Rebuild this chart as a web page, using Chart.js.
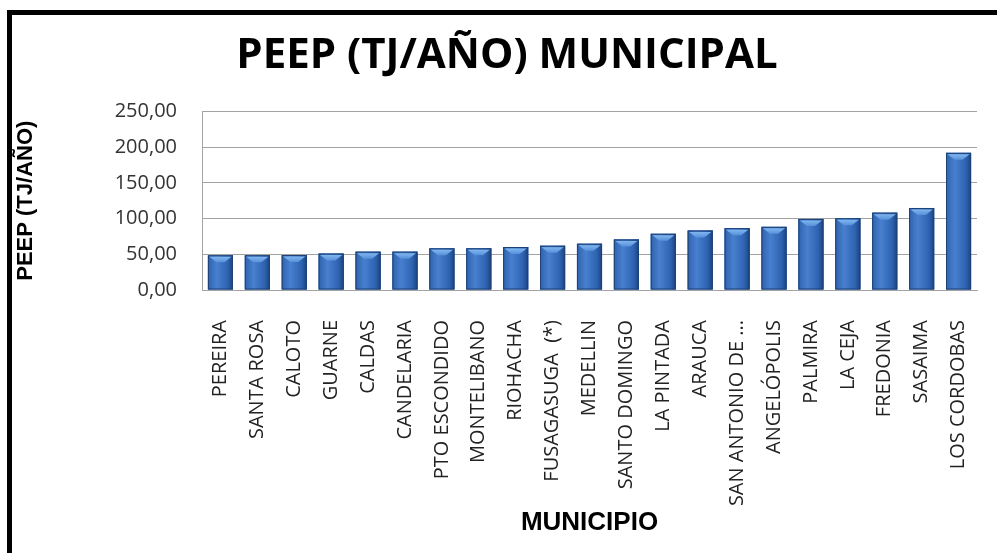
<!DOCTYPE html>
<html lang="es">
<head>
  <meta charset="UTF-8">
  <title>PEEP (TJ/AÑO) MUNICIPAL</title>
  <script src="https://cdn.jsdelivr.net/npm/chart.js@4.4.1/dist/chart.umd.min.js"></script>
  <style>
    body { margin: 0; background: #fff; }
    .wrap { position: relative; width: 997px; height: 553px; overflow: hidden; }
    .frame { position: absolute; left: 7px; top: 10px; width: 1100px; height: 700px;
             border-left: 5px solid #000; border-top: 5px solid #000; }
    canvas { position: absolute; left: 0; top: 0; }
  </style>
</head>
<body>
<div class="wrap">
  <div class="frame"></div>
  <canvas id="peepChart" width="997" height="553"></canvas>
</div>

<script>
  // municipios y PEEP (TJ/año)
  const municipios = [
    'PEREIRA', 'SANTA ROSA', 'CALOTO', 'GUARNE', 'CALDAS', 'CANDELARIA',
    'PTO ESCONDIDO', 'MONTELIBANO', 'RIOHACHA', 'FUSAGASUGA  (*)', 'MEDELLIN',
    'SANTO DOMINGO', 'LA PINTADA', 'ARAUCA', 'SAN ANTONIO DE ...', 'ANGELÓPOLIS',
    'PALMIRA', 'LA CEJA', 'FREDONIA', 'SASAIMA', 'LOS CORDOBAS'
  ];
  const peep = [
    48.6, 48.6, 49.0, 51.0, 53.7, 53.7,
    58.3, 58.4, 60.2, 62.0, 64.8,
    70.8, 78.7, 83.3, 86.6, 88.4,
    99.5, 100.5, 108.3, 114.8, 192.0
  ];
  const yTicks = [0, 50, 100, 150, 200, 250];

  const fmt = v => v.toFixed(2).replace('.', ',');

  // relleno tipo "cilindro" con chevron claro arriba, sobre cada barra
  const barShade = {
    id: 'barShade',
    afterDatasetsDraw(chart) {
      const ctx = chart.ctx;
      chart.getDatasetMeta(0).data.forEach(bar => {
        const l = bar.x - bar.width / 2, r = bar.x + bar.width / 2;
        const top = bar.y, bottom = bar.base;
        const g = ctx.createLinearGradient(l, 0, r, 0);
        g.addColorStop(0, '#2f62ad');
        g.addColorStop(0.35, '#4880cf');
        g.addColorStop(0.8, '#2d62b0');
        g.addColorStop(1, '#1b427d');
        ctx.save();
        ctx.fillStyle = g;
        ctx.fillRect(l, top, r - l, bottom - top);
        ctx.strokeStyle = '#1d4276';
        ctx.lineWidth = 1;
        ctx.strokeRect(l + 0.5, top + 0.5, r - l - 1, bottom - top - 1);
        const cg = ctx.createLinearGradient(0, top, 0, top + 8);
        cg.addColorStop(0, '#8cc0f4');
        cg.addColorStop(1, '#4f8ad6');
        ctx.fillStyle = cg;
        ctx.beginPath();
        ctx.moveTo(l + 1.5, top + 1.5);
        ctx.lineTo(r - 1.5, top + 1.5);
        ctx.lineTo(bar.x + 4, top + 7);
        ctx.lineTo(bar.x - 4, top + 7);
        ctx.closePath();
        ctx.fill();
        ctx.restore();
      });
    }
  };

  new Chart(document.getElementById('peepChart'), {
    type: 'bar',
    data: {
      labels: municipios,
      datasets: [{
        data: peep,
        backgroundColor: '#3a70bf',
        categoryPercentage: 1,
        barPercentage: 0.68
      }]
    },
    options: {
      responsive: false,
      animation: false,
      layout: { padding: { left: 37, right: 20, top: 15, bottom: 0 } },
      plugins: {
        legend: { display: false },
        tooltip: { enabled: false },
        title: {
          display: true,
          text: 'PEEP (TJ/AÑO) MUNICIPAL',
          color: '#000',
          font: { family: 'Open Sans', size: 42, weight: 'bold' },
          padding: { top: 16, bottom: 30 }
        }
      },
      scales: {
        y: {
          min: 0,
          max: 250,
          afterBuildTicks: s => { s.ticks = yTicks.map(v => ({ value: v })); },
          afterFit: s => { s.width = 165; },
          ticks: {
            padding: 25,
            color: '#333',
            font: { family: 'Open Sans', size: 20 },
            callback: v => fmt(v)
          },
          grid: { color: '#a3a3a3', lineWidth: 1, drawTicks: false },
          border: { display: true, color: '#a3a3a3' },
          title: {
            display: true,
            text: 'PEEP (TJ/AÑO)',
            color: '#000',
            font: { family: 'Liberation Sans', size: 22, weight: 'bold' },
            padding: { top: -24, bottom: 0 }
          }
        },
        x: {
          afterFit: s => { s.height = 263; s.paddingLeft = 0; s.paddingRight = 0; },
          ticks: {
            minRotation: 90,
            maxRotation: 90,
            autoSkip: false,
            padding: 22,
            color: '#222',
            font: { family: 'Open Sans', size: 20 }
          },
          grid: { display: false },
          border: { display: true, color: '#a3a3a3' },
          title: {
            display: true,
            text: 'MUNICIPIO',
            color: '#000',
            font: { family: 'Liberation Sans', size: 26, weight: 'bold' },
            padding: { top: 0, bottom: 15 }
          }
        }
      }
    },
    plugins: [barShade]
  });
</script>
</body>
</html>
